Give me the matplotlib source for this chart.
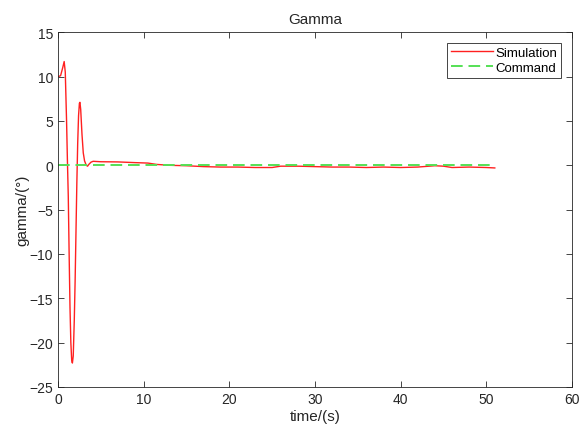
import matplotlib
matplotlib.use("Agg")
import matplotlib.pyplot as plt

plt.rcParams['font.family'] = ['Liberation Sans', 'DejaVu Sans']

# Data
time = [0, 0.3, 0.55, 0.72, 0.85, 1.0, 1.1, 1.2, 1.3, 1.4, 1.5, 1.6, 1.68, 1.78,
        1.9, 2.0, 2.1, 2.2, 2.3, 2.4, 2.5, 2.56, 2.65, 2.8, 2.95, 3.1, 3.3, 3.45,
        3.6, 3.85, 4.1, 5, 7, 9, 10.5, 11.5, 13, 15, 17, 19, 21, 23, 25, 26, 28,
        30, 32, 34, 36, 38, 40, 42, 44, 45, 46, 48, 50, 51]
gamma = [10.0, 10.1, 11.0, 11.7, 10.5, 5, 0.5, -3.5, -10, -16, -20, -22, -22.3, -21.5,
         -17.5, -13, -7.5, -2, 2.5, 5.6, 7.0, 7.1, 6.3, 3.5, 1.4, 0.5, 0.0, -0.1,
         0.1, 0.35, 0.45, 0.4, 0.38, 0.3, 0.25, 0.1, 0.0, -0.05, -0.15, -0.2, -0.2, -0.25, -0.25, -0.1, -0.1,
         -0.15, -0.2, -0.2, -0.25, -0.2, -0.25, -0.2, -0.05, -0.1, -0.25, -0.2, -0.25, -0.3]
cmd_time = [0, 51]
cmd_gamma = [0, 0]

fig = plt.figure(figsize=(5.8, 4.31), dpi=100)
ax = fig.add_axes([0.1, 0.0998, 0.886, 0.823])

ax.plot(time, gamma, color='#ff2020', linewidth=1.0, label='Simulation')
ax.plot(cmd_time, cmd_gamma, color='#55e055', linestyle=(0, (6, 3)), linewidth=1.4, label='Command')

ax.set_xlim(0, 60)
ax.set_ylim(-25, 15)
ax.set_xticks(range(0, 61, 10))
ax.set_yticks(range(-25, 16, 5))
ax.tick_params(direction='in', top=True, right=True, labelsize=10, length=4, width=0.6,
               colors='#262626', labelcolor='#262626')
for s in ax.spines.values():
    s.set_linewidth(0.6)
    s.set_color('#262626')

ax.set_title('Gamma', fontsize=11, color='#262626', pad=7)
ax.set_xlabel('time/(s)', fontsize=11, color='#262626', labelpad=2)
ax.set_ylabel('gamma/(°)', fontsize=11, color='#262626', labelpad=0)

leg = ax.legend(loc='upper right', fontsize=9.5, fancybox=False, edgecolor='#262626',
                framealpha=1, handlelength=3.2, handletextpad=0.2, borderpad=0.3,
                labelspacing=0.2, borderaxespad=0.8)
leg.get_frame().set_linewidth(0.6)

plt.savefig("out.png", dpi=100)
